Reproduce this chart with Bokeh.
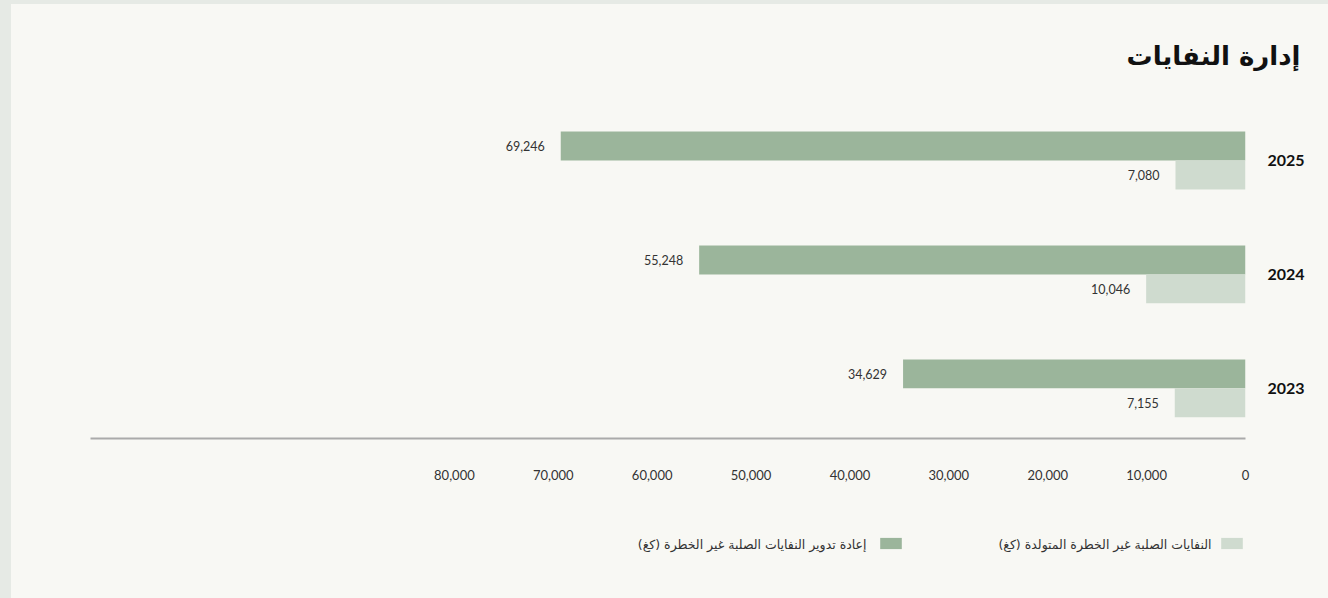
from bokeh.plotting import figure
from bokeh.layouts import column
from bokeh.models import (ColumnDataSource, Range1d, FixedTicker, Label, LabelSet,
                          Legend, LegendItem, NumeralTickFormatter)
from bokeh.embed import file_html
from bokeh.resources import INLINE
from bokeh.core.properties import value

# ---- data ----
title_text = "إدارة النفايات"
years = ["2023", "2024", "2025"]
generated = [7155, 10046, 7080]        # light series
recycled = [34629, 55248, 69246]       # dark series
name_generated = "النفايات الصلبة غير الخطرة المتولدة (كغ)"
name_recycled = "إعادة تدوير النفايات الصلبة غير الخطرة (كغ)"
x_ticks = [0, 10000, 20000, 30000, 40000, 50000, 60000, 70000, 80000]

# ---- style ----
DARK = "#9bb59b"
LIGHT = "#cfdbcf"
PANEL = "#f8f8f4"
OUTER = "#e6eae5"
TXT = "#333333"
NUM_FONT = "Lato"
AR_FONT = "DejaVu Sans"

idx = list(range(len(years)))
bar_h = 0.254
src = ColumnDataSource(dict(
    ydark=[i + bar_h / 2 for i in idx],
    ylight=[i - bar_h / 2 for i in idx],
    gen=generated,
    rec=recycled,
    gen_txt=[f"{v:,}" for v in generated],
    rec_txt=[f"{v:,}" for v in recycled],
))

p = figure(width=1317, height=506,
           x_range=Range1d(116800, 0), y_range=Range1d(-0.44, 2.5),
           y_axis_location="right",
           output_backend="svg", toolbar_location=None,
           min_border_left=79, min_border_right=83,
           min_border_top=99, min_border_bottom=72,
           background_fill_alpha=0, border_fill_alpha=0,
           outline_line_color=None)

r_rec = p.hbar(y="ydark", height=bar_h, left=0, right="rec", source=src,
               fill_color=DARK, line_color=None)
r_gen = p.hbar(y="ylight", height=bar_h, left=0, right="gen", source=src,
               fill_color=LIGHT, line_color=None)

for col, ycol in (("rec", "ydark"), ("gen", "ylight")):
    p.add_layout(LabelSet(x=col, y=ycol, text=col + "_txt", source=src,
                          x_offset=-16, text_align="right", text_baseline="middle",
                          text_font=value(NUM_FONT), text_font_size="12.5px",
                          text_color=TXT))

p.grid.visible = False

xa = p.xaxis[0]
xa.ticker = FixedTicker(ticks=x_ticks)
xa.formatter = NumeralTickFormatter(format="0,0")
xa.major_tick_line_color = None
xa.minor_tick_line_color = None
xa.axis_line_color = "#aaaaaa"
xa.axis_line_width = 2
xa.major_label_standoff = 25
xa.major_label_text_font = NUM_FONT
xa.major_label_text_font_size = "13px"
xa.major_label_text_color = TXT

ya = p.yaxis[0]
ya.ticker = FixedTicker(ticks=idx)
ya.major_label_overrides = {i: y for i, y in zip(idx, years)}
ya.axis_line_color = None
ya.major_tick_line_color = None
ya.minor_tick_line_color = None
ya.major_label_standoff = 16
ya.major_label_text_font = NUM_FONT
ya.major_label_text_font_style = "bold"
ya.major_label_text_font_size = "16px"
ya.major_label_text_color = "#111111"

# title (right aligned, beyond the frame's right edge)
p.title.text = title_text
p.title.align = "right"
p.title.offset = -55
p.title.standoff = 66
p.title.text_font = AR_FONT
p.title.text_font_size = "26px"
p.title.text_font_style = "bold"
p.title.text_color = "#111111"

# ---- legend strip (RTL: swatch on the right, text on the left) ----
# x in page pixels of the aligned frame (90..1245), y in pixels from the bottom
q = figure(width=1317, height=88, x_range=Range1d(90, 1245), y_range=Range1d(0, 88),
           output_backend="svg", toolbar_location=None,
           x_axis_location=None, y_axis_location=None,
           min_border_left=79, min_border_right=83, min_border_top=0, min_border_bottom=0,
           background_fill_alpha=0, border_fill_alpha=0,
           outline_line_color=None)
q.grid.visible = False
# legend-key renderers (one off-screen item each, so the legend has something to draw)
k_gen = q.hbar(y=[-50], left=[0], right=[1], height=1, fill_color=LIGHT, line_color=None)
k_rec = q.hbar(y=[-50], left=[0], right=[1], height=1, fill_color=DARK, line_color=None)

def swatch(renderer, vx):
    lg = Legend(items=[LegendItem(label=value(" "), renderers=[renderer])],
                location=(vx, 48), orientation="horizontal",
                glyph_width=27, glyph_height=14, label_width=0, label_height=14,
                label_standoff=0, padding=0, margin=0, spacing=0,
                border_line_color=None, background_fill_alpha=0,
                label_text_font_size="1px")
    q.add_layout(lg, "center")

swatch(k_gen, 1128)
swatch(k_rec, 787)

for txt, xv in ((name_generated, 1211), (name_recycled, 866)):
    q.add_layout(Label(x=xv, y=54, text=txt, text_align="right",
                       text_baseline="middle", text_font=AR_FONT,
                       text_font_size="12.5px", text_color=TXT))

layout = column(p, q, spacing=0, margin=(4, 0, 0, 11),
                styles={"background-color": PANEL})

html = file_html(layout, INLINE)
html = html.replace("<head>", "<head><style>html,body{background:%s;margin:0;}</style>" % OUTER, 1)
open("out.html", "w").write(html)
